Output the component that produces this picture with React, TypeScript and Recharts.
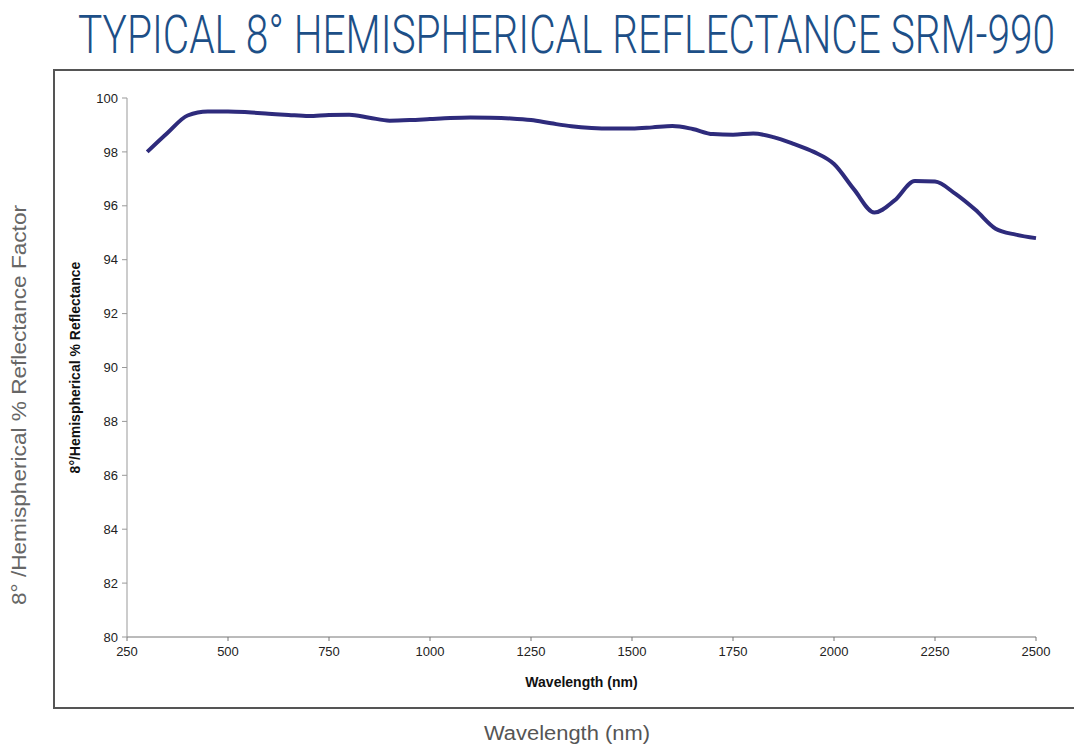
import { CartesianGrid, Line, LineChart, XAxis, YAxis } from "recharts";

// wavelength (nm) and measured reflectance (%)
const wavelengths = [
  300, 350, 400, 450, 500, 550, 600, 650, 700, 750, 800, 850, 900, 950, 1000,
  1050, 1100, 1150, 1200, 1250, 1300, 1350, 1400, 1450, 1500, 1550, 1600, 1650,
  1700, 1750, 1800, 1850, 1900, 1950, 2000, 2050, 2100, 2150, 2200, 2250, 2300,
  2350, 2400, 2450, 2500,
];
const reflectance = [
  98.0, 98.7, 99.35, 99.5, 99.5, 99.47, 99.42, 99.37, 99.33, 99.37, 99.38,
  99.27, 99.16, 99.18, 99.22, 99.26, 99.28, 99.27, 99.24, 99.18, 99.06, 98.95,
  98.89, 98.87, 98.87, 98.91, 98.96, 98.85, 98.66, 98.64, 98.68, 98.55, 98.3,
  98.0, 97.55, 96.6, 95.75, 96.2, 96.92, 96.9, 96.45, 95.85, 95.15, 94.93, 94.8,
];
const xTicks = [250, 500, 750, 1000, 1250, 1500, 1750, 2000, 2250, 2500];
const yTicks = [80, 82, 84, 86, 88, 90, 92, 94, 96, 98, 100];

const data = wavelengths.map((w, i) => ({ w, r: reflectance[i] }));

const tickStyle = { fill: "#222", fontSize: 13, fontFamily: "Liberation Sans, Arial" };
const innerLabel = {
  fill: "#111",
  fontSize: 14,
  fontWeight: "bold",
  fontFamily: "Liberation Sans, Arial",
};

export default function App() {
  return (
    <div
      style={{
        position: "absolute",
        left: 0,
        top: 0,
        width: 1074,
        height: 744,
        overflow: "hidden",
        background: "#fff",
      }}
    >
      <svg width={1074} height={744} style={{ position: "absolute", left: 0, top: 0 }}>
        {/* condensed title: small font stretched vertically */}
        <text
          x={0}
          y={0}
          transform="translate(78, 53) scale(1, 1.5)"
          textLength={977}
          lengthAdjust="spacingAndGlyphs"
          fill="#1d4f87"
          fontSize={36}
          fontWeight={300}
          fontFamily="Roboto, DejaVu Sans Condensed, sans-serif"
        >
          TYPICAL 8° HEMISPHERICAL REFLECTANCE SRM-990
        </text>
        <text
          x={0}
          y={0}
          transform="translate(26, 605) rotate(-90)"
          textLength={400}
          lengthAdjust="spacingAndGlyphs"
          fill="#666"
          fontSize={20}
          fontFamily="Liberation Sans, Arial, sans-serif"
        >
          8° /Hemispherical % Reflectance Factor
        </text>
        <text
          x={484}
          y={740}
          textLength={166}
          lengthAdjust="spacingAndGlyphs"
          fill="#555"
          fontSize={20}
          fontFamily="Liberation Sans, Arial, sans-serif"
        >
          Wavelength (nm)
        </text>
        <rect x={54} y={70} width={1100} height={638} fill="none" stroke="#555" strokeWidth={2} />
      </svg>
      <div style={{ position: "absolute", left: 54, top: 70 }}>
        <LineChart
          width={1020}
          height={638}
          data={data}
          margin={{ top: 28, right: 38, bottom: 0, left: 0 }}
        >
          <CartesianGrid stroke="none" />
          <XAxis
            dataKey="w"
            type="number"
            domain={[250, 2500]}
            ticks={xTicks}
            height={71}
            stroke="#777"
            tickSize={4}
            tickMargin={6}
            tick={tickStyle}
            label={{
              value: "Wavelength (nm)",
              position: "insideBottom",
              offset: 21,
              style: innerLabel,
            }}
          />
          <YAxis
            type="number"
            domain={[80, 100]}
            ticks={yTicks}
            width={73}
            stroke="#999"
            tickSize={5}
            tickMargin={4}
            tick={tickStyle}
            label={{
              value: "8°/Hemispherical % Reflectance",
              angle: -90,
              position: "insideLeft",
              offset: 21,
              style: { ...innerLabel, textAnchor: "middle" },
            }}
          />
          <Line
            dataKey="r"
            type="monotone"
            stroke="#2e2b7c"
            strokeWidth={4}
            dot={false}
            isAnimationActive={false}
          />
        </LineChart>
      </div>
    </div>
  );
}
